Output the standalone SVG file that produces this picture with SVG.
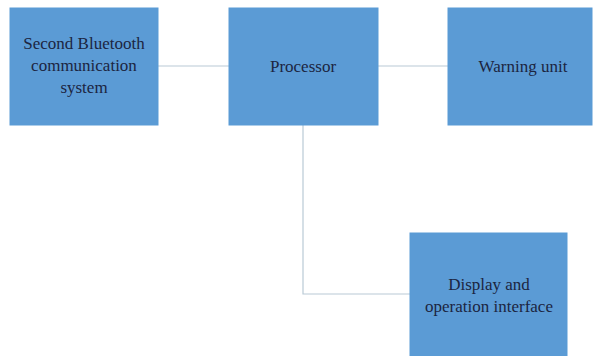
<svg xmlns="http://www.w3.org/2000/svg" width="593" height="356" viewBox="0 0 593 356">
<style>
.box{fill:#5b9bd5;stroke:#5b9bd5;stroke-width:1}
.lbl{font-family:'Liberation Serif','DejaVu Serif',serif;font-size:17px;fill:#1b2541;text-anchor:middle}
.conn{fill:none;stroke:#b9cad6;stroke-width:1.2}
</style>
<rect width="593" height="356" fill="#ffffff"/>
<g id="connectors">
<line class="conn" x1="158" y1="66" x2="229" y2="66"/>
<line class="conn" x1="378" y1="66" x2="448" y2="66"/>
<polyline class="conn" points="303,125 303,294 410,294"/>
</g>
<g id="node-bluetooth">
<rect class="box" x="10" y="8" width="148" height="117"/>
<text class="lbl" x="84" y="49">Second Bluetooth</text>
<text class="lbl" x="84" y="71">communication</text>
<text class="lbl" x="84" y="93">system</text>
</g>
<g id="node-processor">
<rect class="box" x="229" y="8" width="149" height="117"/>
<text class="lbl" x="303" y="72">Processor</text>
</g>
<g id="node-warning">
<rect class="box" x="448" y="8" width="144" height="117"/>
<text class="lbl" x="523" y="72">Warning unit</text>
</g>
<g id="node-display">
<rect class="box" x="410" y="233" width="157" height="123"/>
<text class="lbl" x="489" y="290">Display and</text>
<text class="lbl" x="489" y="312">operation interface</text>
</g>
</svg>
